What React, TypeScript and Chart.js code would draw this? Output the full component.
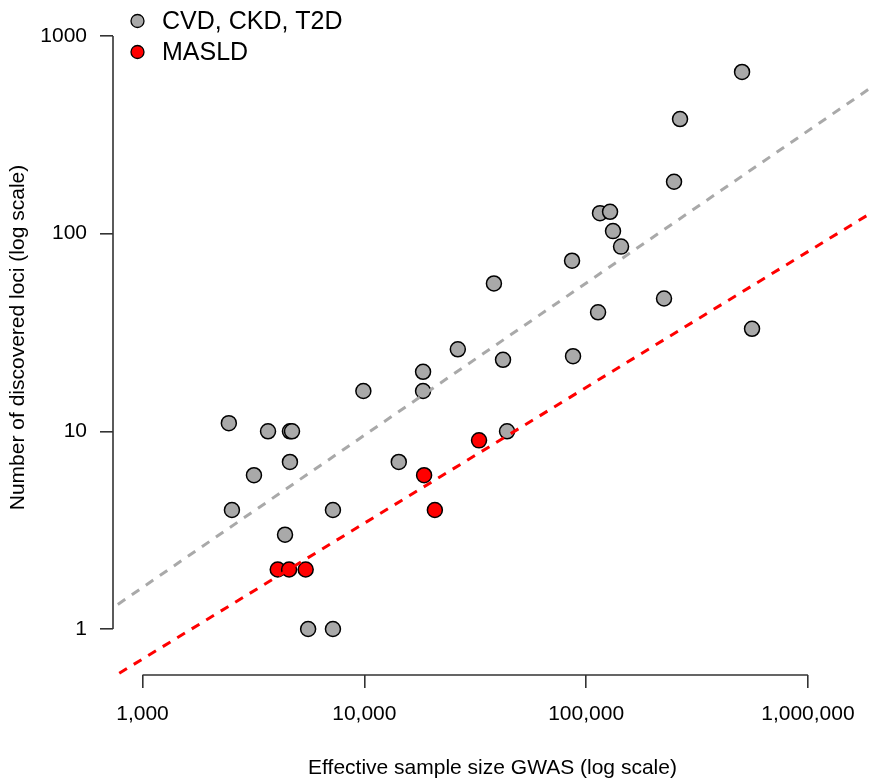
import React, { useEffect, useRef } from "react";
import { Chart, registerables } from "chart.js";

Chart.register(...registerables);

// ---- Data ----
const CVD_CKD_T2D_N = [
  504700, 265100, 249100, 115500, 128200, 132200, 143700, 86400, 224500, 113200,
  559800, 87300, 38400, 26400, 42200, 18400, 18400, 44000, 14300, 9900,
  2450, 3680, 4620, 4720, 4620, 3180, 2530, 7220, 4390, 5580, 7220,
];
const CVD_CKD_T2D_LOCI = [
  658, 380, 183, 127, 129, 103, 86, 73, 47, 40,
  33, 24, 56, 26, 23, 20, 16, 10, 7, 16,
  11, 10, 10, 10, 7, 6, 4, 4, 3, 1, 1,
];
const MASLD_N = [4070, 4580, 5440, 18600, 20800, 32900];
const MASLD_LOCI = [2, 2, 2, 6, 4, 9];

// log10(loci) = intercept + slope * log10(N)
const CVD_FIT = [-2.1, 0.77];
const MASLD_FIT = [-2.213, 0.687];
const FIT_N_RANGE = [500, 3000000];

const X_TICKS = [1000, 10000, 100000, 1000000];
const X_TICK_LABELS = ["1,000", "10,000", "100,000", "1,000,000"];
const Y_TICKS = [1, 10, 100, 1000];
const Y_TICK_LABELS = ["1", "10", "100", "1000"];

const LEGEND_LABELS = ["CVD, CKD, T2D", "MASLD"];
const X_TITLE = "Effective sample size GWAS (log scale)";
const Y_TITLE = "Number of discovered loci (log scale)";

const GRAY = "#A9A9A9";
const RED = "#FF0000";
const AXIS = "#333333";
const FONT = "'Liberation Sans', Arial, Helvetica, sans-serif";

function fitLine(fit: number[]) {
  return FIT_N_RANGE.map((n) => ({ x: n, y: Math.pow(10, fit[0] + fit[1] * Math.log10(n)) }));
}

const axisLinePlugin = {
  id: "rAxisLines",
  afterDraw(chart: any) {
    const { ctx, chartArea, scales } = chart;
    const xs = scales.x;
    const ys = scales.y;
    ctx.save();
    ctx.strokeStyle = AXIS;
    ctx.lineWidth = 1.6;
    ctx.beginPath();
    ctx.moveTo(xs.getPixelForValue(X_TICKS[0]), chartArea.bottom);
    ctx.lineTo(xs.getPixelForValue(X_TICKS[X_TICKS.length - 1]), chartArea.bottom);
    ctx.moveTo(chartArea.left, ys.getPixelForValue(Y_TICKS[0]));
    ctx.lineTo(chartArea.left, ys.getPixelForValue(Y_TICKS[Y_TICKS.length - 1]));
    ctx.stroke();
    ctx.restore();
  },
};

const legendPlugin = {
  id: "rLegend",
  afterDraw(chart: any) {
    const { ctx } = chart;
    const fills = [GRAY, RED];
    ctx.save();
    LEGEND_LABELS.forEach((label, i) => {
      const cy = 21 + i * 31;
      ctx.beginPath();
      ctx.arc(137.5, cy, 6.5, 0, Math.PI * 2);
      ctx.fillStyle = fills[i];
      ctx.fill();
      ctx.lineWidth = 1.3;
      ctx.strokeStyle = "#000";
      ctx.stroke();
      ctx.fillStyle = "#000";
      ctx.font = `25px ${FONT}`;
      ctx.textAlign = "left";
      ctx.textBaseline = "middle";
      ctx.fillText(label, 162, cy + 1);
    });
    ctx.restore();
  },
};

export default function App() {
  const canvasRef = useRef<HTMLCanvasElement | null>(null);

  useEffect(() => {
    if (!canvasRef.current) return;
    const chart = new Chart(canvasRef.current, {
      type: "scatter",
      data: {
        datasets: [
          {
            label: "CVD fit",
            data: fitLine(CVD_FIT),
            showLine: true,
            borderColor: GRAY,
            borderWidth: 3,
            borderDash: [9, 8],
            pointRadius: 0,
            order: 0,
          },
          {
            label: "MASLD fit",
            data: fitLine(MASLD_FIT),
            showLine: true,
            borderColor: RED,
            borderWidth: 3,
            borderDash: [9, 8],
            pointRadius: 0,
            order: 0,
          },
          {
            label: LEGEND_LABELS[0],
            data: CVD_CKD_T2D_N.map((n, i) => ({ x: n, y: CVD_CKD_T2D_LOCI[i] })),
            backgroundColor: GRAY,
            borderColor: "#000",
            borderWidth: 1.5,
            pointRadius: 7.5,
            order: 2,
          },
          {
            label: LEGEND_LABELS[1],
            data: MASLD_N.map((n, i) => ({ x: n, y: MASLD_LOCI[i] })),
            backgroundColor: RED,
            borderColor: "#000",
            borderWidth: 1.5,
            pointRadius: 7.5,
            order: 1,
          },
        ],
      },
      options: {
        animation: false,
        responsive: false,
        devicePixelRatio: 1,
        layout: { autoPadding: false, padding: { top: 0, right: 0, bottom: 0, left: 0 } },
        plugins: {
          legend: { display: false },
          tooltip: { enabled: false },
        },
        scales: {
          x: {
            type: "logarithmic",
            min: 736,
            max: 1945000,
            afterBuildTicks: (s: any) => {
              s.ticks = X_TICKS.map((v) => ({ value: v }));
            },
            afterFit: (s: any) => {
              s.height = 104;
              s.paddingLeft = 0;
              s.paddingRight = 0;
            },
            border: { display: false },
            grid: {
              drawOnChartArea: false,
              drawTicks: true,
              tickLength: 13,
              color: AXIS,
              lineWidth: 1.6,
            },
            ticks: {
              autoSkip: false,
              maxRotation: 0,
              padding: 14,
              color: "#000",
              font: { family: FONT, size: 21 },
              callback: (v: any) => {
                const i = X_TICKS.indexOf(Number(v));
                return i >= 0 ? X_TICK_LABELS[i] : "";
              },
            },
            title: {
              display: true,
              text: X_TITLE,
              color: "#000",
              font: { family: FONT, size: 21, lineHeight: 1 },
              padding: { top: 0, bottom: 0 },
            },
          },
          y: {
            type: "logarithmic",
            min: 0.585,
            max: 1521,
            afterBuildTicks: (s: any) => {
              s.ticks = Y_TICKS.map((v) => ({ value: v }));
            },
            afterFit: (s: any) => {
              s.width = 113;
              s.paddingTop = 0;
              s.paddingBottom = 0;
            },
            border: { display: false },
            grid: {
              drawOnChartArea: false,
              drawTicks: true,
              tickLength: 13,
              color: AXIS,
              lineWidth: 1.6,
            },
            ticks: {
              autoSkip: false,
              padding: 13,
              color: "#000",
              font: { family: FONT, size: 21 },
              callback: (v: any) => {
                const i = Y_TICKS.indexOf(Number(v));
                return i >= 0 ? Y_TICK_LABELS[i] : "";
              },
            },
            title: {
              display: true,
              text: Y_TITLE,
              color: "#000",
              font: { family: FONT, size: 21, lineHeight: 1 },
              padding: { top: 8, bottom: 0 },
            },
          },
        },
      },
      plugins: [axisLinePlugin, legendPlugin],
    } as any);
    return () => chart.destroy();
  }, []);

  return (
    <div style={{ position: "fixed", left: 0, top: 0, width: 872, height: 779, background: "#fff" }}>
      <canvas ref={canvasRef} width={872} height={779} style={{ display: "block", width: 872, height: 779 }} />
    </div>
  );
}
